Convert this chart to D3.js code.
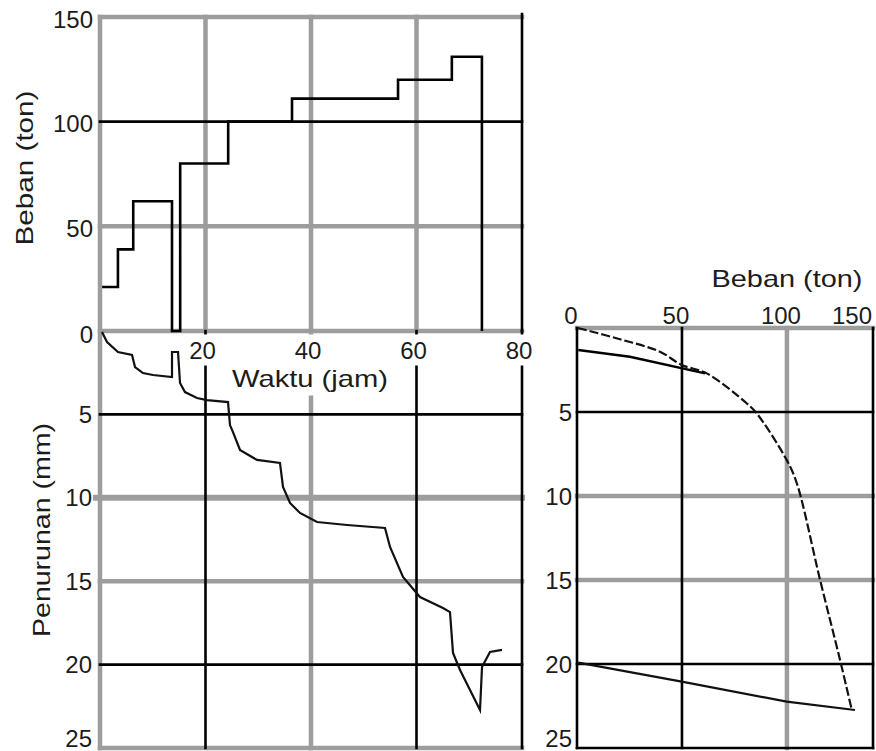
<!DOCTYPE html>
<html>
<head>
<meta charset="utf-8">
<script src="https://cdn.jsdelivr.net/npm/d3@7"></script>
<style>
  body { margin: 0; background: #fff; }
  svg { display: block; }
  text { font-family: "Liberation Sans", Arial, sans-serif; fill: #1c1c1c; }
</style>
</head>
<body>
<svg id="chart" width="876" height="751"></svg>
<script>
// ---------------- data ----------------
const loadTicks = [0, 50, 100, 150];          // Beban (ton), top-left chart
const timeTicks = [20, 40, 60, 80];           // Waktu (jam)
const settleTicks = [5, 10, 15, 20, 25];      // Penurunan (mm)
const loadTicksR = [0, 50, 100, 150];         // Beban (ton), right chart
const settleTicksR = [5, 10, 15, 20, 25];

// load vs time (step loading history)
const stepTime = [0.4, 3.4, 3.4, 6.3, 6.3, 13.65, 13.65, 15.2, 15.2, 24.3, 24.3, 36.4, 36.4, 56.5, 56.5, 66.7, 66.7, 72.4, 72.4];
const stepLoad = [21, 21, 39, 39, 62, 62, 0, 0, 80, 80, 100, 100, 111, 111, 120, 120, 131, 131, 0];

// settlement vs time
const curveTime = [0.38, 1.33, 3.41, 6.07, 6.64, 8.15, 10.05, 13.65, 13.65, 14.79, 15.17, 16.11, 18.39, 20.28, 24.27, 24.64, 25.21, 26.54, 29.76, 34.12, 34.69, 36.02, 37.91, 41.14, 46.82, 54.03, 54.98, 57.44, 60.66, 65.02, 66.35, 66.92, 68.25, 72.04, 72.42, 73.93, 76.21];
const curveSettle = [0.06, 0.66, 1.26, 1.44, 2.16, 2.52, 2.64, 2.76, 1.26, 1.26, 3.12, 3.66, 4.02, 4.14, 4.26, 5.64, 6.06, 7.13, 7.73, 7.91, 9.35, 10.31, 10.91, 11.45, 11.63, 11.81, 12.95, 14.75, 15.95, 16.61, 16.85, 19.30, 20.32, 22.72, 20.14, 19.24, 19.12];

// settlement vs load (right chart)
const loadingLoad = [0.5, 20.5, 39.5, 49.9, 61.8, 80.8, 85.6, 99.9, 104.7, 115.8, 125.3, 130.9];
const loadingSettle = [0.0, 0.67, 1.41, 2.2, 2.7, 4.48, 5.08, 7.86, 9.24, 15.0, 19.76, 22.74];
const firstUnloadLoad = [61.0, 25.2, 0.6];
const firstUnloadSettle = [2.7, 1.71, 1.31];
const finalUnloadLoad = [132.4, 99.9, 49.9, 0.6];
const finalUnloadSettle = [22.74, 22.24, 21.05, 19.92];

const loadMaxR = 141;   // right frame edge on the load axis

// ---------------- scales ----------------
const xT = d3.scaleLinear().domain([0, 80]).range([100, 522]);
const yL = d3.scaleLinear().domain([0, 150]).range([331, 17]);
const yS = d3.scaleLinear().domain([0, 25]).range([331, 748]);
const xR = d3.scaleLinear().domain([0, loadMaxR]).range([577, 873]);
const yR = d3.scaleLinear().domain([0, 25]).range([328, 748]);

const svg = d3.select("#chart");
const gGray = svg.append("g");
const gBlack = svg.append("g");
const gBg = svg.append("g");
const gData = svg.append("g");
const gText = svg.append("g");

const GRAY = { c: "#9d9d9d", w: 4.5 };
const BLACK = { c: "#000", w: 2.6 };

function line(x1, y1, x2, y2, st) {
  const g = st === GRAY ? gGray : gBlack;
  g.append("line").attr("x1", x1).attr("y1", y1).attr("x2", x2).attr("y2", y2)
    .attr("stroke", st.c).attr("stroke-width", st.w).attr("stroke-linecap", "square");
}

// ---------- top-left: load vs time ----------
const topH = { 0: GRAY, 50: GRAY, 100: BLACK, 150: GRAY };
loadTicks.forEach(v => line(xT(0), yL(v), xT(80), yL(v), topH[v]));
line(xT(0), yL(150), xT(0), yS(25), GRAY);
[20, 40, 60].forEach(v => line(xT(v), yL(150), xT(v), yL(0), GRAY));
line(xT(80), yL(150) - 3, xT(80), yL(0), BLACK);

// ---------- bottom-left: settlement vs time ----------
const botH = { 5: BLACK, 10: BLACK, 15: GRAY, 20: BLACK, 25: GRAY };
settleTicks.forEach(v => line(xT(0), yS(v), xT(80), yS(v), botH[v]));
line(xT(0) - 4, yS(10), xT(80), yS(10), { c: "#9d9d9d", w: 6 });
const botV = { 20: BLACK, 40: GRAY, 60: BLACK, 80: BLACK };
timeTicks.forEach(v => line(xT(v), yS(0), xT(v), yS(25), botV[v]));

// ---------- right: settlement vs load ----------
const rH = { 0: GRAY, 5: BLACK, 10: GRAY, 15: GRAY, 20: BLACK, 25: BLACK };
[0].concat(settleTicksR).forEach(v => line(xR(0), yR(v), xR(loadMaxR), yR(v), rH[v]));
line(xR(0), yR(0), xR(0), yR(25), BLACK);
line(xR(50), yR(0), xR(50), yR(25), BLACK);
line(xR(100), yR(0), xR(100), yR(25), GRAY);
line(xR(loadMaxR), yR(0), xR(loadMaxR), yR(25), BLACK);

// ---------------- data lines ----------------
const stepPts = stepTime.map((t, i) => [xT(t), yL(stepLoad[i])]);
gData.append("path").attr("d", d3.line()(stepPts))
  .attr("fill", "none").attr("stroke", "#000").attr("stroke-width", 2.6);

const setPts = curveTime.map((t, i) => [xT(t), yS(curveSettle[i])]);
gData.append("path").attr("d", d3.line()(setPts))
  .attr("fill", "none").attr("stroke", "#111").attr("stroke-width", 2.2);

const loadPts = loadingLoad.map((p, i) => [xR(p), yR(loadingSettle[i])]);
gData.append("path").attr("d", d3.line().curve(d3.curveCatmullRom)(loadPts))
  .attr("fill", "none").attr("stroke", "#111").attr("stroke-width", 2.2)
  .attr("stroke-dasharray", "9,3");
const un1 = firstUnloadLoad.map((p, i) => [xR(p), yR(firstUnloadSettle[i])]);
gData.append("path").attr("d", d3.line()(un1))
  .attr("fill", "none").attr("stroke", "#000").attr("stroke-width", 2.4);
const un2 = finalUnloadLoad.map((p, i) => [xR(p), yR(finalUnloadSettle[i])]);
gData.append("path").attr("d", d3.line()(un2))
  .attr("fill", "none").attr("stroke", "#111").attr("stroke-width", 2.2);

// ---------------- text ----------------
const FS = 24;
function label(txt, x, y, anchor, opts = {}) {
  const t = gText.append("text").attr("x", x).attr("y", y)
    .attr("text-anchor", anchor).attr("dominant-baseline", "central")
    .attr("font-size", opts.fs || FS).text(txt);
  if (opts.len) t.attr("textLength", opts.len).attr("lengthAdjust", "spacingAndGlyphs");
  if (opts.rot) t.attr("transform", `rotate(-90,${x},${y})`);
  if (opts.bg) {
    const b = t.node().getBBox();
    const p = opts.pad || 3;
    gBg.append("rect").attr("x", b.x - p).attr("y", b.y - p)
      .attr("width", b.width + 2 * p).attr("height", b.height + 2 * p).attr("fill", "#fff");
  }
  return t;
}

// top-left y ticks
loadTicks.forEach(v => label(String(v), 93, yL(v) + (v === 0 ? 3 : 2), "end"));
// time ticks (below the zero line)
timeTicks.forEach(v => label(String(v), xT(v) - 3, 350, "middle", { bg: true, pad: 2 }));
label("Waktu (jam)", 310, 378, "middle", { bg: true, pad: 4, len: 156 });
// settlement ticks left
settleTicks.forEach(v => label(String(v), 92, Math.min(yS(v), 738), "end"));
// axis titles left
label("Beban (ton)", 24, 168, "middle", { rot: true, len: 155 });
label("Penurunan (mm)", 41, 530, "middle", { rot: true, len: 214 });

// right chart
label("Beban (ton)", 787, 278, "middle", { len: 151 });
loadTicksR.forEach(v => label(String(v), Math.min(xR(v) - 6, 852), 315, "middle"));
settleTicksR.forEach(v => label(String(v), 572, Math.min(yR(v), 738), "end"));
</script>
</body>
</html>
